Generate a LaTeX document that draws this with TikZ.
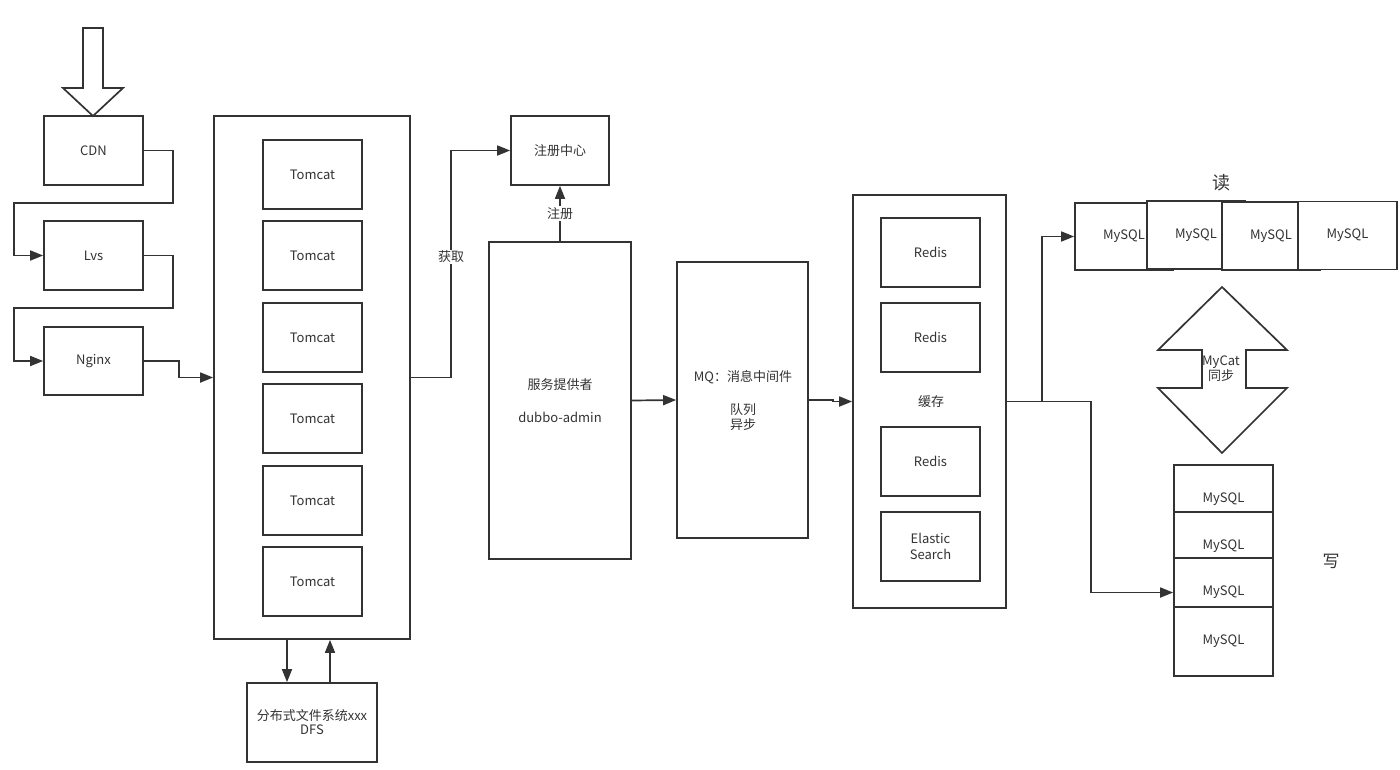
\documentclass[tikz,border=0pt]{standalone}
\usepackage{fontspec}
\setmainfont{Noto Sans CJK SC}
\usetikzlibrary{arrows.meta}
\definecolor{lc}{HTML}{333333}
\definecolor{tc}{HTML}{333333}
\tikzset{
  box/.style={draw=lc, line width=1.7pt, fill=white, inner sep=0pt, text=tc,
    font=\fontsize{13}{15}\selectfont, align=center},
  arr/.style={draw=lc, line width=1.7pt, -{Triangle[length=13pt,width=10pt]}},
  ln/.style={draw=lc, line width=1.7pt},
  lbl/.style={fill=white, inner sep=1pt, text=tc, font=\fontsize{13}{15}\selectfont}
}
\begin{document}
\begin{tikzpicture}[x=1pt,y=-1pt]
\useasboundingbox (0,0) rectangle (1400,769);
% top hollow arrow
\draw[ln, fill=white] (83,28) -- (103,28) -- (103,88) -- (123,88) -- (93,116) -- (63,88) -- (83,88) -- cycle;
% left chain
\node[box, minimum width=99pt, minimum height=69pt] (cdn) at (93.5,150.5) {CDN};
\node[box, minimum width=99pt, minimum height=69pt] (lvs) at (93.5,255.5) {Lvs};
\node[box, minimum width=99pt, minimum height=68pt] (nginx) at (93.5,361) {Nginx};
% tomcat container
\node[box, minimum width=196pt, minimum height=523pt] (big) at (312,377.5) {};
\foreach \i/\y in {1/174.5,2/255.5,3/337.5,4/418.5,5/500.5,6/581.5}{
  \node[box, minimum width=99pt, minimum height=69pt] (t\i) at (312.5,\y) {Tomcat};
}
% DFS
\node[box, minimum width=130pt, minimum height=79pt] (dfs) at (312,722.5) {分布式文件系统xxx\\[-1pt]DFS};
% registry, provider, MQ
\node[box, minimum width=98pt, minimum height=69pt] (reg) at (560,150.5) {注册中心};
\node[box, minimum width=142pt, minimum height=317pt] (prov) at (560,400.5) {};
\node[text=tc, font=\fontsize{13}{15}\selectfont] (provt1) at (560,385) {服务提供者};
\node[text=tc, font=\fontsize{13}{15}\selectfont] (provt2) at (560,417) {dubbo-admin};
\node[box, minimum width=131pt, minimum height=276pt] (mq) at (742.5,400) {};
\node[text=tc, font=\fontsize{13}{15}\selectfont] (mqt1) at (743,377) {MQ：消息中间件};
\node[text=tc, font=\fontsize{13}{15}\selectfont, align=center] (mqt2) at (743,417) {队列\\[0pt]异步};
% cache
\node[box, minimum width=153pt, minimum height=413pt] (cache) at (929.5,401.5) {};
\node[text=tc, font=\fontsize{13}{15}\selectfont] (cachet) at (931,402) {缓存};
\node[box, minimum width=99pt, minimum height=69pt] (r1) at (930.5,252.5) {Redis};
\node[box, minimum width=99pt, minimum height=69pt] (r2) at (930.5,337.5) {Redis};
\node[box, minimum width=99pt, minimum height=69pt] (r3) at (930.5,461.5) {Redis};
\node[box, minimum width=99pt, minimum height=69pt] (es) at (930.5,546.5) {Elastic\\[1pt]Search};
% read MySQL row
\node[box, minimum width=98pt, minimum height=67pt] (m1) at (1124,236.5) {MySQL};
\node[box, minimum width=98pt, minimum height=68pt] (m2) at (1196,235) {MySQL};
\node[box, minimum width=98pt, minimum height=68pt] (m3) at (1271,236) {MySQL};
\node[box, minimum width=99pt, minimum height=68pt] (m4) at (1347.5,235.5) {MySQL};
\node[text=tc, font=\fontsize{18}{20}\selectfont] (read) at (1221,183) {读};
% write MySQL stack
\node[box, minimum width=99pt, minimum height=69pt] (w1) at (1223.5,499.5) {MySQL};
\node[box, minimum width=99pt, minimum height=69pt] (w2) at (1223.5,546.5) {MySQL};
\node[box, minimum width=99pt, minimum height=69pt] (w3) at (1223.5,592.5) {MySQL};
\node[box, minimum width=99pt, minimum height=69pt] (w4) at (1223.5,641.5) {MySQL};
\node[text=tc, font=\fontsize{17}{19}\selectfont] (write) at (1331,561) {写};
% MyCat double arrow
\draw[ln, fill=white] (1222,287) -- (1287,350) -- (1246,350) -- (1246,388) -- (1287,388) -- (1222,453)
  -- (1158,388) -- (1202,388) -- (1202,350) -- (1158,350) -- cycle;
\node[text=tc, font=\fontsize{13}{15}\selectfont, align=center] (mycat) at (1221,369) {MyCat\\[0pt]同步};
% connectors
\draw[arr] (cdn.east) -- ++(29,0) |- (14,203) |- (lvs.west);
\draw[arr] (lvs.east) -- ++(29,0) |- (14,308) |- (nginx.west);
\draw[arr] (nginx.east) -- ++(35,0) |- (big.west);
\draw[arr] (big.east) -- (451,377.5) |- (reg.west);
\node[lbl] (get) at (451,257) {获取};
\draw[arr] (prov.north) -- (reg.south) node[lbl, midway] (regl) {注册};
\draw[arr] (prov.east) -- (mq.west);
\draw[arr] (mq.east) -- ++(24,0) |- (cache.west);
\coordinate (split) at (1042,401.5);
\draw[arr] (cache.east) -- (split) |- (m1.west);
\draw[arr] (split) -- (1091,401.5) |- (w3.west);
\draw[arr] ([xshift=-25pt]big.south) -- ([xshift=-25pt]dfs.north);
\draw[arr] ([xshift=18pt]dfs.north) -- ([xshift=18pt]big.south);
\end{tikzpicture}
\end{document}
